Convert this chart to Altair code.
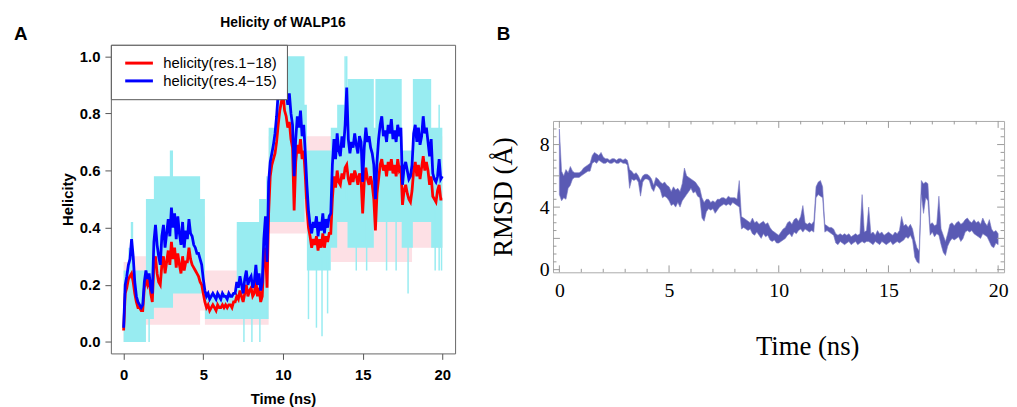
import altair as alt
import pandas as pd

# ---------------- Panel A: helicity of WALP16 ----------------
hel_time = [round(i * 0.1, 1) for i in range(201)]

hel_res1_18 = (
    [0.04, 0.17, 0.19, 0.22, 0.23, 0.24, 0.21, 0.17, 0.14, 0.12]
    + [0.12, 0.11, 0.11, 0.19, 0.22, 0.20, 0.22, 0.17, 0.14, 0.27]
    + [0.30, 0.24, 0.21, 0.20, 0.27, 0.30, 0.24, 0.28, 0.32, 0.27]
    + [0.35, 0.29, 0.33, 0.26, 0.31, 0.27, 0.24, 0.30, 0.25, 0.28]
    + [0.28, 0.33, 0.29, 0.27, 0.26, 0.25, 0.24, 0.23, 0.21, 0.20]
    + [0.17, 0.14, 0.12, 0.13, 0.11, 0.12, 0.13, 0.12, 0.11, 0.13]
    + [0.12, 0.12, 0.13, 0.12, 0.13, 0.12, 0.13, 0.13, 0.12, 0.14]
    + [0.14, 0.16, 0.15, 0.18, 0.16, 0.14, 0.17, 0.20, 0.16, 0.18]
    + [0.19, 0.16, 0.17, 0.22, 0.16, 0.19, 0.14, 0.16, 0.30, 0.33]
    + [0.19, 0.45, 0.58, 0.62, 0.64, 0.66, 0.70, 0.76, 0.81, 0.84]
    + [0.87, 0.81, 0.79, 0.75, 0.77, 0.71, 0.68, 0.46, 0.63, 0.69]
    + [0.66, 0.71, 0.64, 0.67, 0.58, 0.47, 0.40, 0.37, 0.33, 0.36]
    + [0.34, 0.37, 0.32, 0.36, 0.33, 0.38, 0.33, 0.37, 0.35, 0.38]
    + [0.38, 0.50, 0.58, 0.54, 0.60, 0.56, 0.55, 0.59, 0.57, 0.61]
    + [0.62, 0.57, 0.55, 0.59, 0.56, 0.60, 0.58, 0.55, 0.59, 0.57]
    + [0.45, 0.56, 0.61, 0.57, 0.55, 0.58, 0.55, 0.50, 0.39, 0.52]
    + [0.57, 0.62, 0.64, 0.60, 0.62, 0.58, 0.63, 0.60, 0.64, 0.59]
    + [0.62, 0.58, 0.64, 0.60, 0.61, 0.48, 0.53, 0.55, 0.52, 0.50]
    + [0.49, 0.53, 0.60, 0.63, 0.58, 0.62, 0.57, 0.61, 0.65, 0.60]
    + [0.63, 0.60, 0.55, 0.58, 0.51, 0.50, 0.49, 0.53, 0.55, 0.50]
    + [0.50]
)

hel_res4_15 = (
    [0.05, 0.20, 0.23, 0.27, 0.29, 0.36, 0.30, 0.21, 0.16, 0.14]
    + [0.13, 0.12, 0.13, 0.21, 0.25, 0.22, 0.24, 0.19, 0.17, 0.35]
    + [0.41, 0.34, 0.30, 0.27, 0.37, 0.41, 0.33, 0.38, 0.43, 0.37]
    + [0.47, 0.40, 0.45, 0.36, 0.44, 0.38, 0.34, 0.42, 0.33, 0.39]
    + [0.36, 0.43, 0.38, 0.37, 0.34, 0.33, 0.31, 0.31, 0.29, 0.27]
    + [0.22, 0.18, 0.16, 0.17, 0.15, 0.16, 0.17, 0.16, 0.15, 0.17]
    + [0.16, 0.15, 0.17, 0.16, 0.16, 0.15, 0.17, 0.16, 0.16, 0.17]
    + [0.17, 0.21, 0.19, 0.23, 0.20, 0.17, 0.22, 0.25, 0.20, 0.22]
    + [0.23, 0.19, 0.21, 0.27, 0.20, 0.24, 0.18, 0.21, 0.36, 0.44]
    + [0.28, 0.56, 0.63, 0.66, 0.69, 0.73, 0.79, 0.87, 0.90, 0.93]
    + [0.96, 0.90, 0.88, 0.83, 0.87, 0.80, 0.76, 0.58, 0.71, 0.79]
    + [0.75, 0.81, 0.72, 0.76, 0.66, 0.55, 0.46, 0.41, 0.38, 0.42]
    + [0.40, 0.44, 0.37, 0.42, 0.39, 0.45, 0.38, 0.43, 0.40, 0.44]
    + [0.45, 0.62, 0.71, 0.64, 0.73, 0.67, 0.65, 0.72, 0.68, 0.76]
    + [0.89, 0.71, 0.66, 0.70, 0.68, 0.73, 0.69, 0.66, 0.72, 0.70]
    + [0.56, 0.68, 0.75, 0.70, 0.72, 0.68, 0.66, 0.62, 0.50, 0.63]
    + [0.71, 0.76, 0.79, 0.72, 0.74, 0.70, 0.76, 0.73, 0.78, 0.71]
    + [0.74, 0.70, 0.76, 0.72, 0.75, 0.55, 0.61, 0.63, 0.60, 0.57]
    + [0.58, 0.62, 0.73, 0.76, 0.70, 0.75, 0.69, 0.72, 0.79, 0.73]
    + [0.75, 0.70, 0.65, 0.71, 0.59, 0.57, 0.56, 0.58, 0.64, 0.57]
    + [0.58]
)

series_labels = ["helicity(res.1\u221218)", "helicity(res.4\u221215)"]

# per-frame helicity spread (res 4-15, cyan) as steps: start time, low, high
cyan_t = [0.0, 0.3, 0.45, 0.6, 1.4, 1.9, 2.9, 3.1, 4.8, 5.1, 7.1, 8.5, 9.1, 9.6,
          11.35, 11.5, 13.0, 13.4, 14.05, 15.7, 15.8, 17.45, 18.15, 19.3, 20.0]
cyan_lo = [0.0, 0.0, 0.0, 0.0, 0.08, 0.12, 0.12, 0.17, 0.17, 0.08, 0.08, 0.08, 0.42, 0.42,
           0.5, 0.25, 0.33, 0.42, 0.33, 0.42, 0.42, 0.33, 0.42, 0.33, 0.33]
cyan_hi = [0.25, 0.33, 0.42, 0.25, 0.5, 0.58, 0.67, 0.58, 0.5, 0.17, 0.42, 0.5, 0.75, 1.0,
           0.83, 0.67, 0.75, 0.83, 0.92, 0.75, 0.92, 0.67, 0.92, 0.75, 0.75]

# isolated frames reaching outside the band (cyan)
spike_t = [1.6, 7.55, 8.05, 8.55, 9.0, 10.7, 11.6, 12.1, 12.45, 12.8, 13.9, 14.0,
           14.6, 15.25, 16.5, 17.1, 17.85, 19.55, 19.8, 19.95]
spike_lo = [0.0, 0.0, 0.0, 0.0, 0.08, 0.42, 0.08, 0.05, 0.02, 0.1, 0.5, 0.5,
            0.25, 0.25, 0.25, 0.25, 0.17, 0.25, 0.25, 0.25]
spike_hi = [0.25, 0.2, 0.2, 0.2, 0.58, 0.6, 0.5, 0.3, 0.3, 0.3, 1.0, 1.0,
            0.5, 0.5, 0.5, 0.5, 0.4, 0.5, 0.83, 0.5]

# per-frame helicity spread (res 1-18, pink) as steps
pink_t = [0.0, 0.6, 1.4, 2.0, 4.8, 5.1, 7.1, 9.1, 13.0, 17.5, 18.1, 20.0]
pink_lo = [0.0, 0.0, 0.06, 0.06, 0.11, 0.06, 0.06, 0.38, 0.28, 0.28, 0.33, 0.33]
pink_hi = [0.28, 0.3, 0.44, 0.5, 0.44, 0.25, 0.39, 0.72, 0.72, 0.61, 0.72, 0.72]

# ---------------- Panel B: RMSD ----------------
rmsd_time = [round(i * 0.1, 1) for i in range(201)]
rmsd_lo = (
    [4.8, 4.4, 4.6, 4.5, 5.2, 5.4, 5.8, 5.9, 5.9, 5.9]
    + [6.0, 6.1, 6.2, 6.3, 6.3, 6.8, 6.9, 6.8, 7.0, 6.9]
    + [6.8, 6.8, 6.9, 6.8, 6.8, 6.9, 6.8, 6.8, 6.9, 6.8]
    + [6.8, 6.7, 5.2, 5.8, 5.7, 5.8, 5.6, 4.7, 5.6, 5.8]
    + [5.8, 5.7, 5.2, 5.0, 5.4, 5.3, 5.1, 4.6, 4.7, 4.6]
    + [4.4, 4.1, 4.2, 4.0, 4.3, 4.0, 4.4, 4.6, 4.8, 5.0]
    + [5.2, 4.9, 5.0, 4.7, 4.6, 3.3, 3.1, 3.7, 3.9, 3.8]
    + [3.9, 3.6, 3.8, 4.0, 4.1, 4.2, 4.1, 4.2, 4.1, 4.3]
    + [4.2, 4.1, 4.0, 2.6, 2.7, 2.6, 2.5, 2.6, 2.3, 2.2]
    + [2.4, 2.2, 2.0, 2.3, 2.1, 2.2, 1.9, 1.8, 1.9, 1.7]
    + [1.7, 1.8, 1.9, 2.0, 2.2, 2.3, 2.1, 2.4, 2.3, 2.5]
    + [2.6, 2.4, 2.6, 2.5, 2.4, 2.5, 2.4, 4.6, 4.8, 4.7]
    + [4.6, 2.4, 2.5, 2.4, 2.3, 2.2, 1.7, 1.6, 1.8, 1.7]
    + [1.6, 1.7, 1.8, 1.6, 1.7, 1.8, 1.6, 1.7, 1.8, 1.7]
    + [1.8, 1.8, 1.7, 1.6, 1.8, 1.7, 1.6, 1.8, 1.7, 1.6]
    + [1.7, 1.8, 1.6, 1.7, 1.8, 1.7, 1.8, 1.9, 2.1, 2.0]
    + [2.2, 1.9, 0.8, 0.5, 0.4, 4.8, 3.6, 4.6, 4.4, 2.2]
    + [2.4, 2.1, 2.3, 2.2, 1.6, 1.1, 0.9, 1.5, 1.8, 2.0]
    + [1.9, 2.0, 2.1, 1.8, 2.0, 2.4, 2.5, 2.4, 2.5, 2.3]
    + [2.2, 2.1, 2.0, 2.3, 2.2, 2.1, 1.8, 1.5, 1.4, 1.7]
    + [1.6]
)
rmsd_hi = (
    [9.0, 6.3, 6.0, 6.4, 6.2, 6.6, 6.3, 6.2, 6.2, 6.2]
    + [6.3, 6.5, 6.6, 6.7, 6.8, 7.3, 7.5, 7.4, 7.3, 7.5]
    + [7.2, 7.1, 7.1, 7.0, 7.1, 7.1, 7.0, 7.1, 7.1, 7.0]
    + [7.1, 7.0, 6.4, 6.3, 6.1, 6.2, 6.0, 5.7, 6.0, 6.1]
    + [6.1, 6.0, 5.8, 5.4, 5.9, 5.8, 5.6, 5.5, 5.6, 5.4]
    + [5.3, 5.0, 5.3, 5.1, 5.2, 5.0, 5.5, 6.5, 6.0, 5.9]
    + [5.8, 5.7, 5.6, 5.4, 5.2, 4.6, 4.3, 4.5, 4.5, 4.3]
    + [4.4, 4.3, 4.5, 4.5, 4.6, 4.6, 4.5, 4.7, 4.6, 4.6]
    + [4.6, 4.5, 5.7, 3.4, 3.3, 3.2, 3.1, 3.0, 3.3, 3.0]
    + [3.1, 2.9, 3.0, 3.1, 2.9, 3.0, 2.7, 2.5, 2.4, 2.3]
    + [2.2, 2.4, 2.6, 2.7, 3.0, 3.1, 2.9, 3.2, 3.3, 3.1]
    + [3.4, 4.1, 3.0, 2.9, 3.0, 2.9, 3.1, 5.3, 5.6, 5.7]
    + [5.3, 2.9, 2.8, 2.7, 2.7, 2.6, 2.3, 2.2, 2.3, 2.2]
    + [2.3, 2.2, 2.3, 2.1, 2.2, 2.3, 2.2, 2.3, 4.8, 2.4]
    + [2.5, 4.0, 2.3, 2.4, 2.2, 2.5, 2.3, 2.4, 2.2, 2.3]
    + [2.4, 2.3, 2.2, 2.4, 2.3, 2.5, 3.4, 2.8, 2.9, 2.7]
    + [2.9, 2.6, 1.9, 1.4, 1.2, 5.7, 5.5, 5.6, 5.5, 2.9]
    + [3.0, 2.8, 2.9, 4.7, 2.6, 2.2, 1.8, 2.3, 2.9, 3.0]
    + [2.8, 3.0, 3.1, 2.9, 3.0, 3.2, 3.3, 3.1, 3.0, 3.2]
    + [3.0, 3.1, 2.9, 3.3, 3.0, 2.8, 3.2, 2.6, 2.4, 2.5]
    + [2.3]
)

a_xticks = [0, 5, 10, 15, 20]
a_yticks = [0.0, 0.2, 0.4, 0.6, 0.8, 1.0]
b_xmajor = [0, 5, 10, 15, 20]
b_xminor = [1, 2, 3, 4, 6, 7, 8, 9, 11, 12, 13, 14, 16, 17, 18, 19]
b_ymajor = [0, 2, 4, 6, 8]
b_yminor = [0.5, 1, 1.5, 2.5, 3, 3.5, 4.5, 5, 5.5, 6.5, 7, 7.5, 8.5, 9]
panel_labels = ["A", "B"]

SANS = "Liberation Sans"
SERIF = "Liberation Serif"

# ---------------- build panel A ----------------
df_lines = pd.DataFrame({
    "t": hel_time + hel_time,
    "h": hel_res1_18 + hel_res4_15,
    "s": [series_labels[0]] * len(hel_time) + [series_labels[1]] * len(hel_time),
})
df_cyan = pd.DataFrame({"t": cyan_t, "lo": cyan_lo, "hi": cyan_hi})
df_spk = pd.DataFrame({"t": spike_t, "lo": spike_lo, "hi": spike_hi})
df_pink = pd.DataFrame({"t": pink_t, "lo": pink_lo, "hi": pink_hi})

xA = alt.X("t:Q", scale=alt.Scale(domain=[-0.8, 20.8], nice=False, zero=False),
           axis=alt.Axis(values=a_xticks, format="d", title="Time (ns)", grid=False, domain=False,
                         tickSize=6, tickColor="#555", labelFont=SANS, labelFontSize=15,
                         labelFontWeight="bold", labelColor="black", labelPadding=8,
                         titleFont=SANS, titleFontSize=15, titleFontWeight="bold",
                         titleColor="black", titlePadding=10))
yA_axis = alt.Axis(values=a_yticks, format=".1f", title="Helicity", grid=False, domain=False,
                   tickSize=6, tickColor="#555", labelFont=SANS, labelFontSize=15,
                   labelFontWeight="bold", labelColor="black", labelPadding=5,
                   titleFont=SANS, titleFontSize=15, titleFontWeight="bold",
                   titleColor="black", titlePadding=4)
yscA = alt.Scale(domain=[-0.04, 1.04], nice=False, zero=False)

pink = alt.Chart(df_pink).mark_area(interpolate="step-after", color="#fde0e5").encode(
    x=xA, y=alt.Y("lo:Q", scale=yscA, axis=yA_axis), y2="hi:Q")
cyan = alt.Chart(df_cyan).mark_area(interpolate="step-after", color="#98ecf1").encode(
    x="t:Q", y="lo:Q", y2="hi:Q")
spikes = alt.Chart(df_spk).mark_rule(color="#98ecf1", strokeWidth=1.5).encode(
    x="t:Q", y="lo:Q", y2="hi:Q")
lines = alt.Chart(df_lines).mark_line(strokeWidth=2.8).encode(
    x="t:Q", y="h:Q",
    color=alt.Color("s:N", scale=alt.Scale(domain=series_labels, range=["#ff0000", "#0000ff"]),
                    legend=alt.Legend(title=None, orient="top-left", offset=0, padding=10,
                                      fillColor="white", strokeColor="#555",
                                      symbolType="M-2,0L2,0", symbolSize=196,
                                      symbolStrokeWidth=3, symbolOffset=10, labelOffset=16,
                                      labelFont=SANS, labelFontSize=15, labelColor="black",
                                      rowPadding=1)))
labA = alt.Chart(pd.DataFrame({"lab": [panel_labels[0]]})).mark_text(
    font=SANS, fontSize=19, fontWeight="bold", color="black", align="center", baseline="middle"
).encode(text="lab:N", x=alt.value(-91), y=alt.value(-11))

panelA = alt.layer(pink, cyan, spikes, lines, labA).properties(
    width=348, height=312,
    title=alt.TitleParams("Helicity of WALP16", font=SANS, fontSize=14, fontWeight="bold",
                          color="black", anchor="middle", offset=-5),
    view=alt.ViewBackground(stroke="#666", strokeWidth=1),
)

# ---------------- build panel B ----------------
WB, HB = 456, 153
df_rmsd = pd.DataFrame({"t": rmsd_time, "lo": rmsd_lo, "hi": rmsd_hi})
xB = alt.X("t:Q", scale=alt.Scale(domain=[-0.29, 20.27], nice=False, zero=False),
           axis=alt.Axis(values=b_xmajor, format="d", title="Time (ns)", grid=False, domain=False,
                         ticks=False, labelFont=SERIF, labelFontSize=20, labelColor="black",
                         labelPadding=8, titleFont=SERIF, titleFontSize=27,
                         titleFontWeight="normal", titleColor="black", titlePadding=34,
                         titleX=257))
yB = alt.Y("lo:Q", scale=alt.Scale(domain=[-0.17, 9.51], nice=False, zero=False),
           axis=alt.Axis(values=b_ymajor, format="d", title="RMSD (\u00c5)", grid=False,
                         domain=False, ticks=False, labelFont=SERIF, labelFontSize=20,
                         labelColor="black", labelPadding=4, titleFont=SERIF, titleFontSize=27,
                         titleFontWeight="normal", titleColor="black", titlePadding=22))
rmsd = alt.Chart(df_rmsd).mark_area(color="#5a5ab4", strokeWidth=0.6, stroke="#7a7ac4").encode(
    x=xB, y=yB, y2="hi:Q")

TICK = "#9a9a9a"


def xticks(vals, length):
    d = pd.DataFrame({"t": vals})
    bot = alt.Chart(d).mark_rule(color=TICK, strokeWidth=1).encode(
        x="t:Q", y=alt.value(HB), y2=alt.value(HB - length))
    top = alt.Chart(d).mark_rule(color=TICK, strokeWidth=1).encode(
        x="t:Q", y=alt.value(0), y2=alt.value(length))
    return [bot, top]


def yticks(vals, length):
    d = pd.DataFrame({"lo": vals})
    left = alt.Chart(d).mark_rule(color=TICK, strokeWidth=1).encode(
        y="lo:Q", x=alt.value(0), x2=alt.value(length))
    right = alt.Chart(d).mark_rule(color=TICK, strokeWidth=1).encode(
        y="lo:Q", x=alt.value(WB), x2=alt.value(WB - length))
    return [left, right]


tick_layers = xticks(b_xmajor, 7) + xticks(b_xminor, 3.5) + yticks(b_ymajor, 7) + yticks(b_yminor, 3.5)

panelB = alt.layer(rmsd, *tick_layers).properties(
    width=WB, height=HB,
    view=alt.ViewBackground(stroke="#aaaaaa", strokeWidth=1),
)

# blank strip above panel B carrying its panel letter
spacerB = alt.Chart(pd.DataFrame({"lab": [panel_labels[1]]})).mark_text(
    font=SANS, fontSize=19, fontWeight="bold", color="black", align="center", baseline="middle"
).encode(text="lab:N", x=alt.value(-50), y=alt.value(-11)).properties(
    width=WB, height=65, view=alt.ViewBackground(stroke="transparent"))

colB = alt.vconcat(spacerB, panelB, spacing=10)

chart = alt.hconcat(panelA, colB, spacing=33).properties(
    padding={"left": 5, "top": 5, "right": 0, "bottom": 0}
).configure(background="white")

chart.save("out.html", embed_options={"renderer": "svg", "actions": False})
